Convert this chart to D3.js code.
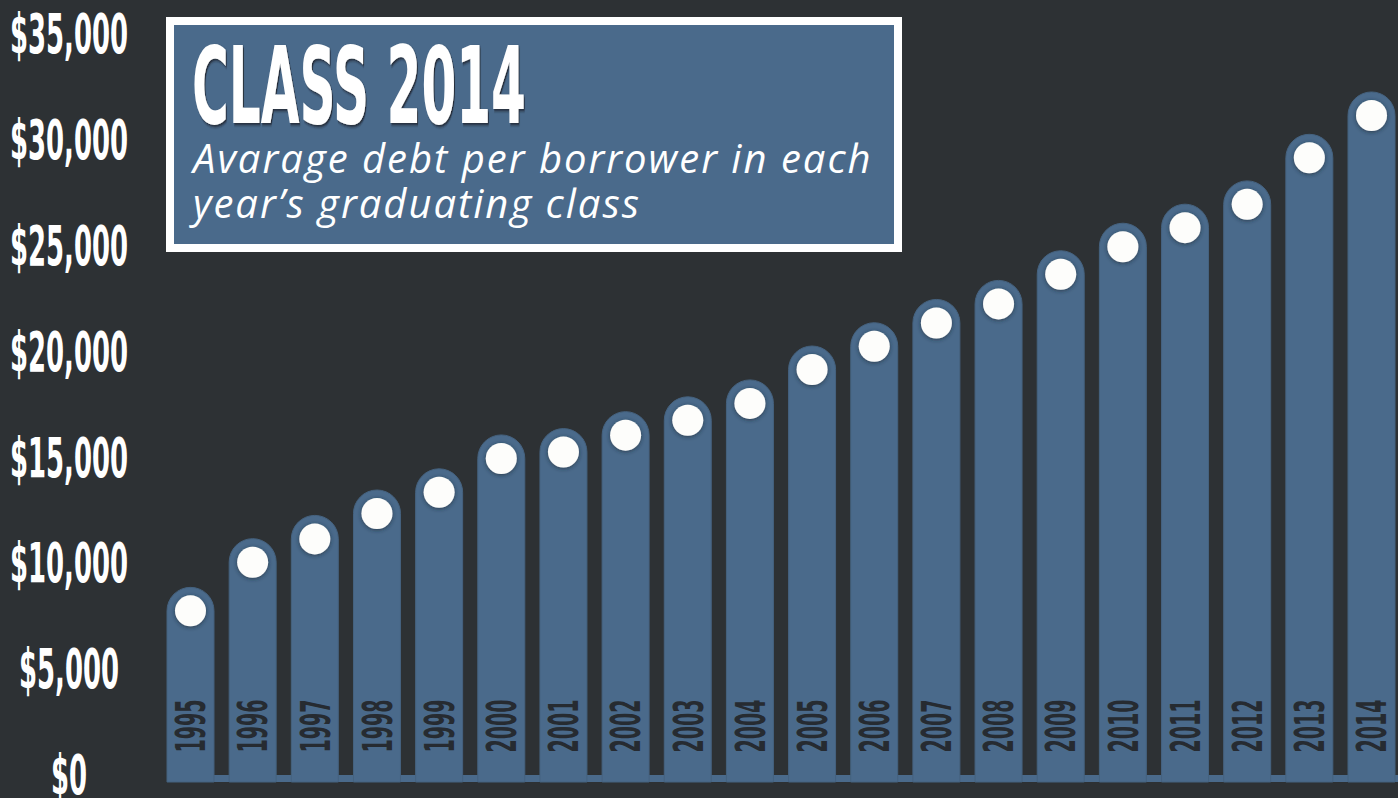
<!DOCTYPE html>
<html>
<head>
<meta charset="utf-8">
<script src="https://cdn.jsdelivr.net/npm/d3@7"></script>
<style>
  html, body { margin: 0; padding: 0; background: #2d3134; }
  #app { width: 1398px; height: 798px; }
</style>
</head>
<body>
<div id="app"></div>
<script>
'use strict'
const years = ['1995', '1996', '1997', '1998', '1999', '2000', '2001', '2002', '2003', '2004',
  '2005', '2006', '2007', '2008', '2009', '2010', '2011', '2012', '2013', '2014']
const debt = [7800, 10100, 11200, 12400, 13400, 15000, 15300, 16100, 16800, 17600,
  19200, 20300, 21400, 22300, 23700, 25000, 25900, 27000, 29200, 31200]
const yTicks = [0, 5000, 10000, 15000, 20000, 25000, 30000, 35000]
const title = 'CLASS 2014'
const subtitle = ['Avarage debt per borrower in each', 'year\u2019s graduating class']

const W = 1398
const H = 798
const bg = '#2d3134'
const blue = '#4a6a8b'
const condensed = '"Liberation Sans Narrow", "DejaVu Sans Condensed", "Roboto", sans-serif'

const data = years.map((d, i) => ({ year: d, value: debt[i] }))

const svg = d3.select('#app').append('svg')
  .attr('width', W)
  .attr('height', H)

svg.append('rect').attr('width', W).attr('height', H).attr('fill', bg)

const defs = svg.append('defs')
const sh = defs.append('filter').attr('id', 'shadow').attr('x', '-10%').attr('y', '-10%').attr('width', '130%').attr('height', '130%')
sh.append('feDropShadow').attr('dx', 2).attr('dy', 2).attr('stdDeviation', 1.5)
  .attr('flood-color', '#1a1d20').attr('flood-opacity', 0.8)
const glow = defs.append('filter').attr('id', 'glow').attr('x', '-50%').attr('y', '-50%').attr('width', '200%').attr('height', '200%')
glow.append('feDropShadow').attr('dx', 0).attr('dy', 1).attr('stdDeviation', 2)
  .attr('flood-color', '#1f2a36').attr('flood-opacity', 0.7)

const x = d3.scaleBand()
  .domain(years)
  .range([167, 1395])
  .paddingInner(0.244)
  .paddingOuter(0)

const y = d3.scaleLinear()
  .domain([0, 35000])
  .range([776, 35])

const baseTop = 775
const baseBottom = 782

// y axis labels, squeezed so they read like a narrow display face
const yl = svg.append('g').selectAll('g')
  .data(yTicks)
  .enter().append('g')
  .attr('transform', d => `translate(69, ${y(d)})`)
const ylText = yl.append('text')
  .text(d => '$' + d3.format(',')(d))
  .attr('text-anchor', 'middle')
  .attr('dy', '0.33em')
  .attr('fill', '#ffffff')
  .style('font-family', condensed)
  .style('font-weight', 'bold')
  .style('font-size', '55px')
const refW = ylText.filter(d => d === 35000).node().getComputedTextLength()
ylText.attr('transform', `scale(${118 / refW}, 1)`)

// baseline strip
svg.append('rect')
  .attr('x', x(years[0]))
  .attr('y', baseTop)
  .attr('width', W - x(years[0]))
  .attr('height', baseBottom - baseTop)
  .attr('fill', blue)

// rounded bars
const bw = x.bandwidth()
const r = bw / 2
svg.append('g').selectAll('path')
  .data(data)
  .enter().append('path')
  .attr('d', d => {
    const x0 = x(d.year)
    const cy = y(d.value)
    return `M${x0},${baseBottom} L${x0},${cy} A${r},${r} 0 0 1 ${x0 + bw},${cy} L${x0 + bw},${baseBottom} Z`
  })
  .attr('fill', blue)
  .attr('stroke', '#45627f')
  .attr('stroke-width', 1)

// dots
svg.append('g').selectAll('circle')
  .data(data)
  .enter().append('circle')
  .attr('cx', d => x(d.year) + r)
  .attr('cy', d => y(d.value))
  .attr('r', 15.5)
  .attr('fill', '#fdfdfb')
  .attr('filter', 'url(#glow)')

// year labels
const yearG = svg.append('g').selectAll('g')
  .data(data)
  .enter().append('g')
  .attr('transform', d => `translate(${x(d.year) + r}, 726) rotate(-90)`)
const yearText = yearG.append('text')
  .text(d => d.year)
  .attr('text-anchor', 'middle')
  .attr('dy', '0.36em')
  .attr('fill', '#262b31')
  .style('font-family', condensed)
  .style('font-weight', 'bold')
  .style('font-size', '41px')
const yearW = yearText.node().getComputedTextLength()
yearText.attr('transform', `scale(${53 / yearW}, 1)`)

// title box
const box = svg.append('g')
box.append('rect')
  .attr('x', 170)
  .attr('y', 21)
  .attr('width', 728)
  .attr('height', 227)
  .attr('fill', blue)
  .attr('stroke', '#ffffff')
  .attr('stroke-width', 8)

const titleText = box.append('text')
  .text(title)
  .attr('x', 0)
  .attr('y', 0)
  .attr('fill', '#ffffff')
  .attr('filter', 'url(#shadow)')
  .style('font-family', condensed)
  .style('font-weight', 'bold')
  .style('font-size', '107px')
const tW = titleText.node().getComputedTextLength()
titleText.attr('transform', `translate(192, 123) scale(${334 / tW}, 1)`)

box.selectAll('text.sub')
  .data(subtitle)
  .enter().append('text')
  .attr('class', 'sub')
  .text(d => d)
  .attr('x', 193)
  .attr('y', (d, i) => 173 + i * 45)
  .attr('fill', '#ffffff')
  .style('font-family', '"Open Sans", "Noto Sans", sans-serif')
  .style('font-style', 'italic')
  .style('font-size', '40px')
  .style('letter-spacing', '2px')
</script>
</body>
</html>
